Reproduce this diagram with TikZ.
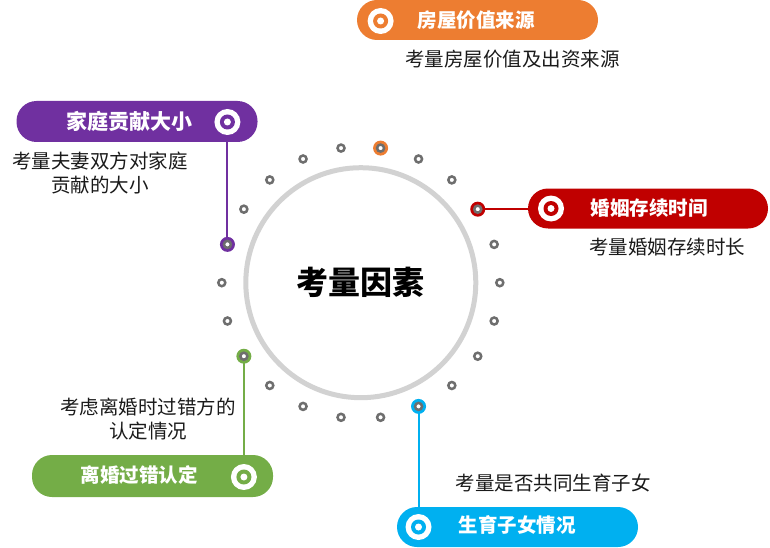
\documentclass[tikz,border=0pt]{standalone}
\usepackage{fontspec}
\setmainfont{Noto Sans CJK SC}
\usetikzlibrary{backgrounds}
\definecolor{corange}{HTML}{ED7D31}
\definecolor{cpurple}{HTML}{7030A0}
\definecolor{cred}{HTML}{C00000}
\definecolor{cgreen}{HTML}{74AD47}
\definecolor{cblue}{HTML}{00B0F0}
\definecolor{dotgray}{HTML}{6E6E6E}
\definecolor{ringgray}{HTML}{D2D2D2}
\definecolor{txt}{HTML}{1A1A1A}
\begin{document}
\begin{tikzpicture}[x=1pt,y=-1pt,
  ringdot/.style={circle,draw=dotgray,line width=2.5pt,fill=white,minimum size=7pt,inner sep=0pt},
  cdot/.style={circle,fill=#1,minimum size=15pt,inner sep=0pt,
    path picture={\draw[dotgray,line width=2.5pt,fill=white] (path picture bounding box.center) circle (3.5pt);}},
  badge/.style={fill=#1,rounded corners=20pt,minimum width=241pt,minimum height=40pt,inner sep=0pt},
  icon/.style={circle,fill=white,minimum size=26pt,inner sep=0pt,
    path picture={\fill[#1] (path picture bounding box.center) circle (7.5pt);
                  \fill[white] (path picture bounding box.center) circle (3.5pt);}},
  ttl/.style={text=white,font=\fontsize{19.5}{23}\selectfont\bfseries,inner sep=0pt},
  desc/.style={text=txt,font=\fontsize{19.5}{24}\selectfont,align=center,inner sep=0pt},
  link/.style={draw=#1,line width=2pt}]
\useasboundingbox (0,0) rectangle (770,548);

% central ring
\node[circle,draw=ringgray,line width=5pt,minimum size=230pt,inner sep=0pt,
      font=\fontsize{32}{37}\selectfont\bfseries] (hub) at (360.8,282.7) {考量因素};

% ring of grey dots
\foreach \k in {0,1,3,4,6,7,8,9,11,12,14,15,16,17,19,20,21}{
  \node[ringdot] (d\k) at ({360.8+139*cos(\k*360/22)},{282.7-136*sin(\k*360/22)}) {};
}
% coloured dots
\node[cdot=cred]    (d2)  at ({360.8+139*cos(2*360/22)},{282.7-136*sin(2*360/22)}) {};
\node[cdot=corange] (d5)  at ({360.8+139*cos(5*360/22)},{282.7-136*sin(5*360/22)}) {};
\node[cdot=cpurple] (d10) at ({360.8+139*cos(10*360/22)},{282.7-136*sin(10*360/22)}) {};
\node[cdot=cgreen]  (d13) at ({360.8+139*cos(13*360/22)},{282.7-136*sin(13*360/22)}) {};
\node[cdot=cblue]   (d18) at ({360.8+139*cos(18*360/22)},{282.7-136*sin(18*360/22)}) {};

% badge 1: orange (top)
\node[badge=corange] (b1) at (477.5,20) {};
\node[icon=corange] (i1) at (380.6,21) {};
\node[ttl] (t1) at (476,20) {房屋价值来源};
\node[desc] (s1) at (512.5,59) {考量房屋价值及出资来源};

% badge 2: purple (upper left)
\node[badge=cpurple,minimum height=41pt] (b2) at (137,121.5) {};
\node[icon=cpurple] (i2) at (227.4,122) {};
\node[ttl,font=\fontsize{21}{24}\selectfont\bfseries] (t2) at (129.5,121) {家庭贡献大小};
\node[desc] (s2) at (100,173.5) {考量夫妻双方对家庭\\贡献的大小};

% badge 3: red (right)
\node[badge=cred,minimum width=240pt] (b3) at (648,208.5) {};
\node[icon=cred] (i3) at (551,208.5) {};
\node[ttl] (t3) at (649,208) {婚姻存续时间};
\node[desc] (s3) at (667,247) {考量婚姻存续时长};

% badge 4: green (lower left)
\node[badge=cgreen,minimum height=42pt] (b4) at (152.5,476) {};
\node[icon=cgreen] (i4) at (243.9,477) {};
\node[ttl] (t4) at (139,475) {离婚过错认定};
\node[desc] (s4) at (148,419.5) {考虑离婚时过错方的\\认定情况};

% badge 5: blue (bottom)
\node[badge=cblue] (b5) at (517.5,527) {};
\node[icon=cblue] (i5) at (418.5,527) {};
\node[ttl] (t5) at (517,525) {生育子女情况};
\node[desc] (s5) at (553,483) {考量是否共同生育子女};

% connectors
\begin{scope}[on background layer]
  \draw[link=cpurple] (d10.center) -- (d10.center |- i2.center);
  \draw[link=cred]    (d2.center) -- (d2.center -| b3.west);
  \draw[link=cgreen]  (d13.center) -- (d13.center |- i4.center);
  \draw[link=cblue]   (d18.center) -- (d18.center |- i5.center);
\end{scope}
\end{tikzpicture}
\end{document}
